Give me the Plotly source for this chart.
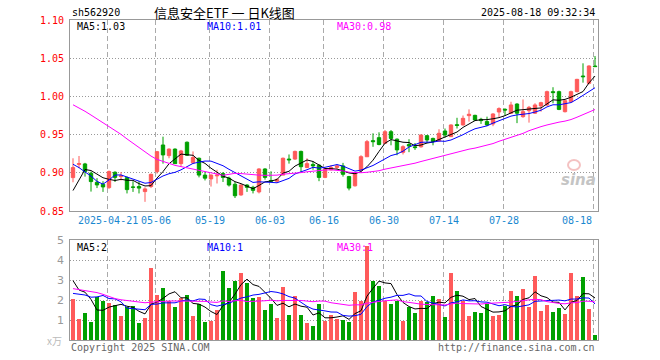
import plotly.graph_objects as go
import pandas as pd

# ---------------- data ----------------
holidays = ["2025-05-01", "2025-05-02", "2025-05-05", "2025-06-02"]
dates = [d.strftime("%Y-%m-%d") for d in pd.bdate_range("2025-04-11", "2025-08-18")
         if d.strftime("%Y-%m-%d") not in holidays]

opens = [0.8937, 0.911, 0.9116, 0.8994, 0.8876, 0.885, 0.8806, 0.9007, 0.895, 0.8937,
         0.8815, 0.882, 0.8754, 0.882, 0.9016, 0.9364, 0.9225, 0.931, 0.912, 0.940,
         0.913, 0.919, 0.897, 0.892, 0.896, 0.899, 0.893, 0.885, 0.871, 0.884,
         0.881, 0.875, 0.905, 0.890, 0.889, 0.897, 0.918, 0.918, 0.928, 0.907,
         0.911, 0.910, 0.894, 0.904, 0.907, 0.909, 0.895, 0.883, 0.9037, 0.921,
         0.9421, 0.946, 0.9386, 0.9538, 0.944, 0.9268, 0.937, 0.934, 0.934, 0.9486,
         0.945, 0.9416, 0.9547, 0.9473, 0.963, 0.9626, 0.9748, 0.9752, 0.970, 0.967,
         0.9639, 0.9796, 0.9831, 0.978, 0.990, 0.9735, 0.9813, 0.978, 0.9875, 0.9888,
         1.0062, 1.0062, 0.980, 0.993, 1.0062, 1.0267, 1.0171, 1.0398]
highs = [0.919, 0.922, 0.913, 0.9016, 0.893, 0.889, 0.903, 0.902, 0.901, 0.895,
         0.889, 0.889, 0.881, 0.899, 0.9286, 0.9473, 0.932, 0.932, 0.930, 0.941,
         0.928, 0.920, 0.901, 0.898, 0.904, 0.901, 0.895, 0.888, 0.885, 0.885,
         0.883, 0.906, 0.906, 0.902, 0.893, 0.920, 0.924, 0.929, 0.929, 0.919,
         0.915, 0.911, 0.906, 0.910, 0.911, 0.913, 0.896, 0.901, 0.923, 0.943,
         0.9517, 0.953, 0.956, 0.956, 0.945, 0.936, 0.944, 0.939, 0.950, 0.949,
         0.946, 0.957, 0.958, 0.9634, 0.972, 0.975, 0.983, 0.976, 0.972, 0.9735,
         0.978, 0.9857, 0.9844, 0.993, 0.991, 0.996, 0.9875, 0.991, 0.993, 1.0075,
         1.012, 1.0075, 0.9953, 1.0075, 1.023, 1.0433, 1.0407, 1.0528]
lows = [0.8876, 0.906, 0.895, 0.8754, 0.880, 0.875, 0.879, 0.888, 0.890, 0.873,
        0.875, 0.873, 0.862, 0.880, 0.899, 0.912, 0.919, 0.912, 0.908, 0.922,
        0.912, 0.894, 0.890, 0.882, 0.886, 0.888, 0.882, 0.867, 0.870, 0.875,
        0.873, 0.873, 0.891, 0.888, 0.887, 0.897, 0.912, 0.917, 0.901, 0.906,
        0.904, 0.889, 0.893, 0.903, 0.905, 0.895, 0.877, 0.882, 0.902, 0.921,
        0.934, 0.936, 0.938, 0.936, 0.923, 0.924, 0.927, 0.930, 0.933, 0.939,
        0.936, 0.941, 0.946, 0.947, 0.958, 0.962, 0.967, 0.968, 0.964, 0.961,
        0.961, 0.973, 0.975, 0.977, 0.965, 0.972, 0.9657, 0.977, 0.980, 0.9875,
        0.991, 0.982, 0.979, 0.992, 1.0053, 1.018, 1.0158, 1.0390]
closes = [0.9068, 0.912, 0.9016, 0.8885, 0.8841, 0.8815, 0.9016, 0.894, 0.896, 0.878,
          0.881, 0.880, 0.8789, 0.898, 0.9277, 0.9234, 0.931, 0.912, 0.9286, 0.923,
          0.920, 0.897, 0.893, 0.897, 0.897, 0.894, 0.884, 0.870, 0.884, 0.881,
          0.877, 0.905, 0.894, 0.889, 0.891, 0.919, 0.917, 0.928, 0.908, 0.912,
          0.909, 0.894, 0.905, 0.907, 0.909, 0.898, 0.880, 0.900, 0.9211, 0.9408,
          0.9408, 0.937, 0.9538, 0.945, 0.930, 0.9342, 0.935, 0.933, 0.9495, 0.943,
          0.941, 0.9517, 0.9495, 0.9626, 0.962, 0.9713, 0.9766, 0.9691, 0.9683, 0.9626,
          0.977, 0.984, 0.9822, 0.9888, 0.978, 0.980, 0.9857, 0.9888, 0.9918, 1.0062,
          1.005, 0.983, 0.9944, 1.0062, 1.0223, 1.0258, 1.0398, 1.039]
volumes = [2.05, 1.05, 1.35, 0.9, 2.15, 1.97, 1.85, 1.75, 1.2, 1.67,
           1.7, 0.85, 1.1, 3.6, 2.25, 2.6, 1.97, 1.65, 2.08, 2.25,
           1.2, 1.8, 0.9, 0.97, 1.5, 3.45, 2.6, 2.95, 3.35, 2.85,
           2.1, 2.15, 1.5, 1.8, 1.1, 2.65, 1.25, 2.2, 1.25, 0.85,
           0.7, 1.8, 0.95, 1.25, 1.05, 1.0, 0.9, 2.4, 1.97, 4.7,
           2.95, 2.7, 1.95, 1.8, 1.97, 0.97, 1.67, 1.35, 1.95, 1.92,
           2.2, 2.05, 1.15, 3.35, 2.45, 1.95, 1.2, 1.42, 1.35, 1.8,
           1.2, 1.25, 1.7, 2.45, 2.2, 2.55, 1.65, 3.2, 1.45, 1.75,
           1.42, 1.6, 1.3, 3.35, 2.2, 3.15, 1.55, 0.25]

# closes / volumes of the 29 sessions before the window (seed the moving averages)
prior_closes = [1.028, 1.041, 1.036, 1.030, 1.039, 1.034, 1.050, 1.062, 1.058, 1.047,
                1.060, 1.055, 1.049, 1.059, 1.012, 0.998, 0.990, 0.978, 0.965, 0.968,
                0.956, 0.958, 0.942, 0.954, 0.918, 0.847, 0.829, 0.895, 0.906]
prior_volumes = [2.3, 2.5, 3.1, 3.5, 4.6, 5.0, 4.9, 3.0, 2.8, 3.05,
                 2.1, 1.9, 2.7, 1.4, 1.7, 2.0, 1.6, 2.1, 2.2, 1.3,
                 1.6, 1.6, 2.0, 2.0, 1.25, 3.4, 1.9, 2.7, 4.8]

tick_dates = ["2025-04-21", "2025-05-06", "2025-05-19", "2025-06-03", "2025-06-16",
              "2025-06-30", "2025-07-14", "2025-07-28", "2025-08-18"]
tick_texts = ["2025-04-21", "05-06", "05-19", "06-03", "06-16", "06-30", "07-14", "07-28", "08-18"]
price_ticks = [0.85, 0.90, 0.95, 1.00, 1.05, 1.10]
vol_ticks = [1, 2, 3, 4, 5]

code = "sh562920"
title = "信息安全ETF 一 日K线图"
stamp = "2025-08-18 09:32:34"

# ---------------- derived ----------------
n = len(closes)
x = list(range(n))
pc = pd.Series(prior_closes + closes)
pv = pd.Series(prior_volumes + volumes)
k = len(prior_closes)
ma = {m: pc.rolling(m).mean().tolist()[k:] for m in (5, 10, 30)}
vma = {m: pv.rolling(m).mean().tolist()[k:] for m in (5, 10, 30)}

RED = "#ff5a5a"
GREEN = "#00a000"
MONO = "DejaVu Sans Mono, Liberation Mono, monospace"
W, H = 660, 360
L, R, T, B = 70, 598, 20, 340


def px(xp):
    return (xp - L) / (R - L)


def py(yp):
    return (B - yp) / (B - T)


fig = go.Figure()
fig.add_trace(go.Candlestick(
    x=x, open=opens, high=highs, low=lows, close=closes,
    increasing=dict(line=dict(color=RED, width=1), fillcolor=RED),
    decreasing=dict(line=dict(color=GREEN, width=1), fillcolor=GREEN),
    whiskerwidth=0, xaxis="x", yaxis="y", showlegend=False, hoverinfo="skip"))
for m, col in ((5, "black"), (10, "#0000ff"), (30, "#ff00ff")):
    fig.add_trace(go.Scatter(x=x, y=ma[m], mode="lines", line=dict(color=col, width=1),
                             xaxis="x", yaxis="y", showlegend=False, hoverinfo="skip"))

bar_colors = [RED if c >= o else GREEN for o, c in zip(opens, closes)]
fig.add_trace(go.Bar(x=x, y=volumes, marker=dict(color=bar_colors, line=dict(width=0)),
                     width=0.78, xaxis="x2", yaxis="y2", showlegend=False, hoverinfo="skip"))
for m, col in ((5, "black"), (10, "#0000ff"), (30, "#ff00ff")):
    fig.add_trace(go.Scatter(x=x, y=vma[m], mode="lines", line=dict(color=col, width=1),
                             xaxis="x2", yaxis="y2", showlegend=False, hoverinfo="skip"))

grid_idx = [dates.index(d) - 0.2 for d in tick_dates]
xcommon = dict(range=[-0.5, n - 0.5], showline=True, mirror=True, linecolor="#999999",
               linewidth=1, tickvals=grid_idx, showgrid=True, gridcolor="#aaaaaa",
               griddash="5px,3px", gridwidth=1, showticklabels=False, zeroline=False,
               ticks="", fixedrange=True)
price_dom = [py(211), 1]
vol_dom = [0, py(240)]

fig.update_layout(
    width=W, height=H, margin=dict(l=L, r=W - R, t=T, b=H - B),
    paper_bgcolor="white", plot_bgcolor="white",
    xaxis=dict(xcommon, anchor="y", rangeslider=dict(visible=False)),
    xaxis2=dict(xcommon, anchor="y2"),
    yaxis=dict(domain=price_dom, range=[price_ticks[0], price_ticks[-1]], anchor="x",
               showline=True, mirror=True, linecolor="#999999", linewidth=1,
               tickvals=price_ticks[1:-1], showgrid=True, gridcolor="#999999",
               griddash="1px,2px", showticklabels=False, zeroline=False, ticks="",
               fixedrange=True),
    yaxis2=dict(domain=vol_dom, range=[0, vol_ticks[-1]], anchor="x2",
                showline=True, mirror=True, linecolor="#999999", linewidth=1,
                tickvals=vol_ticks[:-1], showgrid=True, gridcolor="#999999",
                griddash="1px,2px", showticklabels=False, zeroline=False, ticks="",
                fixedrange=True),
    boxgap=0.2,
    bargap=0,
)

ann = []
# price axis labels
for v in price_ticks:
    ann.append(dict(x=px(66), y=v, xref="paper", yref="y", text=f"{v:.2f}",
                    xanchor="right", yanchor="middle", showarrow=False,
                    font=dict(family=MONO, size=10, color="#ff0000")))
# volume axis labels
for v in vol_ticks:
    ann.append(dict(x=px(66), y=v, xref="paper", yref="y2", text=str(v),
                    xanchor="right", yanchor="middle", showarrow=False,
                    font=dict(family="DejaVu Sans, sans-serif", size=11, color="#999999")))
ann.append(dict(x=px(64), y=py(340), xref="paper", yref="paper", text="x万",
                xanchor="right", yanchor="middle", showarrow=False,
                font=dict(family="Noto Sans CJK SC", size=10, color="#bbbbbb")))
# date labels
for d, t in zip(tick_dates, tick_texts):
    last = d == tick_dates[-1]
    ann.append(dict(x=dates.index(d) - 0.2, y=py(220), xref="x", yref="paper", text=t,
                    xanchor="right" if last else "center", yanchor="middle", showarrow=False,
                    font=dict(family=MONO, size=10, color="#1a88d0")))
# header
ann.append(dict(x=px(70), y=py(13), xref="paper", yref="paper", text=code, xanchor="left",
                yanchor="middle", showarrow=False, font=dict(family=MONO, size=10, color="black")))
ann.append(dict(x=px(224), y=py(13), xref="paper", yref="paper", text=title, xanchor="center",
                yanchor="middle", showarrow=False,
                font=dict(family="Noto Sans CJK SC", size=13, color="black")))
ann.append(dict(x=px(597), y=py(13), xref="paper", yref="paper", text=stamp, xanchor="right",
                yanchor="middle", showarrow=False, font=dict(family=MONO, size=10, color="black")))
# MA labels
for xp, label, col in ((75, f"MA5:{ma[5][-1]:.2f}", "black"),
                       (205, f"MA10:{ma[10][-1]:.2f}", "#0000ff"),
                       (335, f"MA30:{ma[30][-1]:.2f}", "#ff00ff")):
    ann.append(dict(x=px(xp), y=py(27), xref="paper", yref="paper", text=label, xanchor="left",
                    yanchor="middle", showarrow=False, font=dict(family=MONO, size=10, color=col)))
for xp, label, col in ((75, f"MA5:{int(vma[5][-1])}", "black"),
                       (205, f"MA10:{int(vma[10][-1])}", "#0000ff"),
                       (335, f"MA30:{int(vma[30][-1])}", "#ff00ff")):
    ann.append(dict(x=px(xp), y=py(247), xref="paper", yref="paper", text=label, xanchor="left",
                    yanchor="middle", showarrow=False, font=dict(family=MONO, size=10, color=col)))
# footer
ann.append(dict(x=px(69), y=py(347), xref="paper", yref="paper", text="Copyright 2025 SINA.COM",
                xanchor="left", yanchor="middle", showarrow=False,
                font=dict(family=MONO, size=10, color="#666666")))
ann.append(dict(x=px(597), y=py(347), xref="paper", yref="paper", text="http://finance.sina.com.cn",
                xanchor="right", yanchor="middle", showarrow=False,
                font=dict(family=MONO, size=10, color="#666666")))
# watermark
ann.append(dict(x=px(578), y=py(180), xref="paper", yref="paper", text="sina",
                xanchor="center", yanchor="middle", showarrow=False,
                font=dict(family="DejaVu Sans", size=15, color="#c4c4c4", weight="bold", style="italic")))
fig.update_layout(annotations=ann)
fig.add_shape(type="circle", xref="paper", yref="paper", x0=px(568), x1=px(580),
              y0=py(170), y1=py(160), line=dict(color="rgba(230,120,120,0.45)", width=2),
              fillcolor="rgba(0,0,0,0)", layer="below")

fig.write_html("out.html", config={"displayModeBar": False, "staticPlot": True},
               post_script="document.body.style.margin='0';document.body.style.overflow='hidden';")
